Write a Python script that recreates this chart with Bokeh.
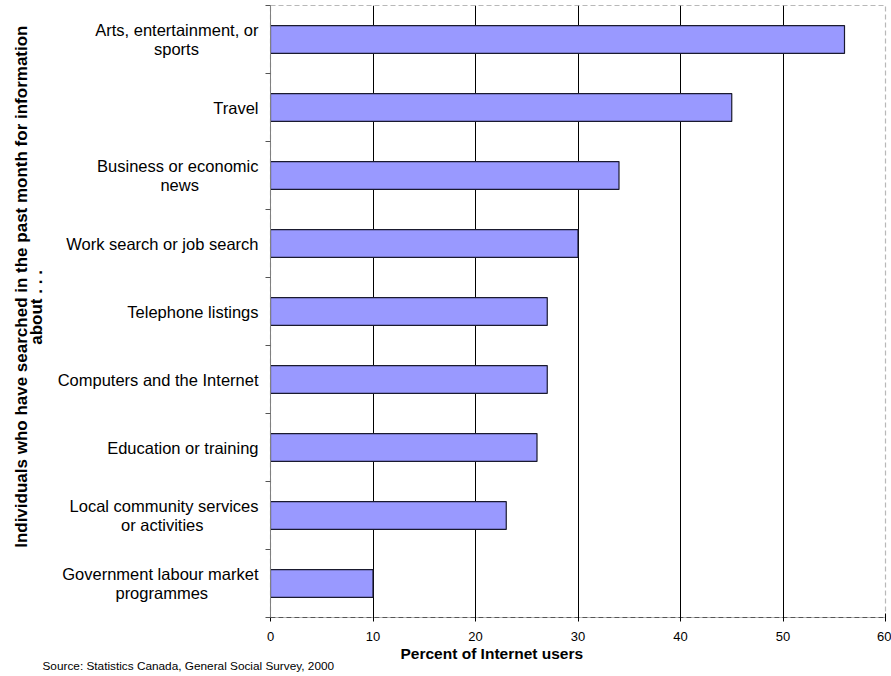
from bokeh.plotting import figure
from bokeh.models import Range1d, FixedTicker, Grid, Title
from bokeh.embed import file_html
from bokeh.resources import INLINE

# Search topics, listed top to bottom, with share of Internet users (%)
topics = [
    "Arts, entertainment, or\nsports",
    "Travel",
    "Business or economic\nnews",
    "Work search or job search",
    "Telephone listings",
    "Computers and the Internet",
    "Education or training",
    "Local community services\nor activities",
    "Government labour market\nprogrammes",
]
percent = [56, 45, 34, 30, 27, 27, 26, 23, 10]
x_ticks = [0, 10, 20, 30, 40, 50, 60]

FONT = "Liberation Sans"
NBSP = "\u00a0"

# Approximate advance widths of Arial/Liberation Sans (1/1000 em), used to
# centre the short line of a two-line label against the long one.
_W = {" ": 278, ",": 278, ".": 278, ":": 278, NBSP: 278}
_W.update(dict(zip("abcdefghijklmnopqrstuvwxyz",
                   [556, 556, 500, 556, 556, 278, 556, 556, 222, 222, 500, 222, 833,
                    556, 556, 556, 556, 333, 500, 278, 556, 500, 722, 500, 500, 500])))
_W.update(dict(zip("ABCDEFGHIJKLMNOPQRSTUVWXYZ",
                   [667, 667, 722, 722, 667, 611, 778, 722, 278, 500, 667, 556, 833,
                    722, 778, 667, 778, 722, 667, 611, 722, 667, 944, 667, 667, 611])))


def centred(text, pad_end=True):
    """Pad shorter lines with no-break spaces so each sits centred in the block.

    pad_end=True suits right-aligned text, pad_end=False left-aligned text.
    """
    lines = text.split("\n")
    widths = [sum(_W.get(ch, 556) for ch in ln) for ln in lines]
    block = max(widths)
    out = []
    for ln, w in zip(lines, widths):
        pad = NBSP * int(round((block - w) / 2 / _W[" "]))
        out.append(ln + pad if pad_end else pad + ln)
    return "\n".join(out)


n = len(topics)
centers = [i + 0.5 for i in range(n)]
bounds = list(range(n + 1))

p = figure(
    width=891, height=676,
    x_range=Range1d(0, 60), y_range=Range1d(n, 0),
    output_backend="svg", toolbar_location=None,
    min_border_left=270, min_border_right=6,
    min_border_top=5, min_border_bottom=59,
    background_fill_color="white", border_fill_color="white",
)

p.hbar(y=centers, right=percent, left=0, height=0.41,
       fill_color="#9999FF", line_color="#1a1a2e", line_width=1.2)

# Plot-area frame
p.outline_line_color = "#B8B8B8"
p.outline_line_dash = "5 3"
p.outline_line_width = 1.2

# Vertical gridlines
p.xgrid.visible = False
p.ygrid.visible = False
p.add_layout(Grid(dimension=0, ticker=FixedTicker(ticks=[10, 20, 30, 40, 50]),
                  grid_line_color="black", grid_line_width=1))
p.add_layout(Grid(dimension=0, ticker=FixedTicker(ticks=[60]),
                  grid_line_color="#333333", grid_line_width=1.2,
                  grid_line_dash="5 3"))

# X axis
xa = p.xaxis[0]
xa.ticker = FixedTicker(ticks=x_ticks)
xa.axis_line_color = "#555555"
xa.axis_line_dash = "5 3"
xa.major_tick_in = 4
xa.major_tick_out = 4
xa.major_tick_line_color = "black"
xa.minor_tick_line_color = None
xa.major_label_text_font = FONT
xa.major_label_text_font_size = "13px"
xa.major_label_text_color = "black"
xa.major_label_standoff = 10

# X-axis title, centred on the whole chart rather than the plot area
p.add_layout(Title(
    text="Percent of Internet users",
    align="left", offset=130, standoff=2, vertical_align="top",
    text_font=FONT, text_font_size="15.5px", text_font_style="bold",
    text_color="black",
), "below")

# Y axis: labels at band centres, tick marks at band boundaries
ya = p.yaxis[0]
ya.ticker = FixedTicker(ticks=centers, minor_ticks=bounds)
ya.major_label_overrides = {c: centred(t) for c, t in zip(centers, topics)}
ya.major_tick_in = 0
ya.major_tick_out = 0
ya.minor_tick_in = 0
ya.minor_tick_out = 5
ya.minor_tick_line_color = "#555555"
ya.axis_line_color = "#808080"
ya.major_label_text_font = FONT
ya.major_label_text_font_size = "16.5px"
ya.major_label_text_color = "black"
ya.major_label_text_line_height = 1.1
ya.major_label_standoff = 7

# Rotated y-axis title
p.add_layout(Title(
    text=centred("Individuals who have searched in the past month for information\nabout . . .",
                 pad_end=False),
    align="right", offset=20, standoff=16,
    text_font=FONT, text_font_size="17px", text_font_style="bold",
    text_color="black", text_line_height=0.8,
), "left")

# Source note
p.add_layout(Title(
    text="Source: Statistics Canada, General Social Survey, 2000",
    align="left", offset=-228, standoff=-11, vertical_align="top",
    text_font=FONT, text_font_size="11.8px", text_font_style="normal",
    text_color="black",
), "below")

open("out.html", "w").write(file_html(p, INLINE))
